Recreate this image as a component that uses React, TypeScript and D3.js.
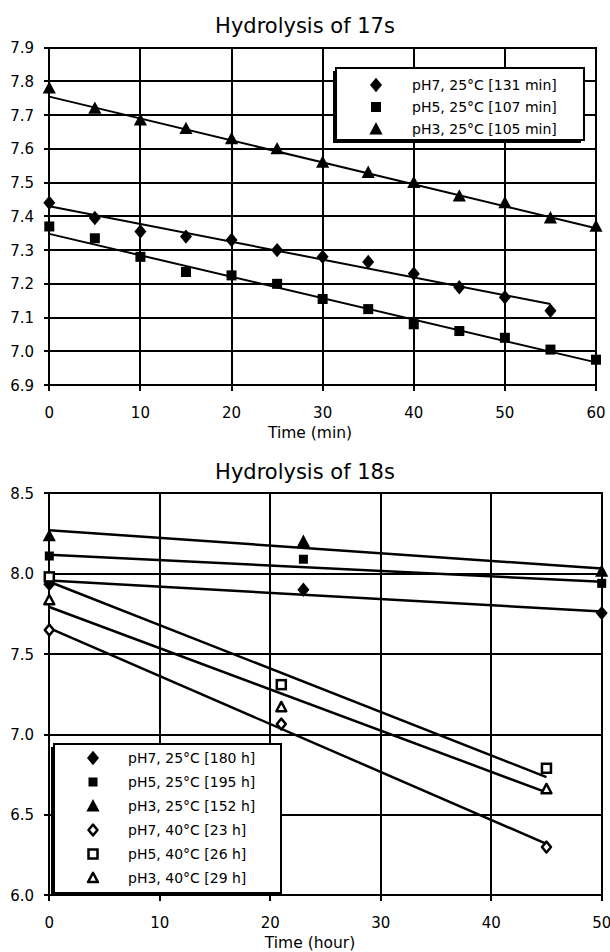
import * as d3 from 'd3';

// ---- Hydrolysis of 17s (time in minutes)
const minutes = [0, 5, 10, 15, 20, 25, 30, 35, 40, 45, 50, 55, 60];
const ph7_17s = [7.44, 7.395, 7.355, 7.34, 7.33, 7.3, 7.28, 7.265, 7.23, 7.19, 7.16, 7.12];
const ph5_17s = [7.37, 7.335, 7.28, 7.235, 7.225, 7.2, 7.155, 7.125, 7.08, 7.06, 7.04, 7.005, 6.975];
const ph3_17s = [7.78, 7.72, 7.685, 7.66, 7.63, 7.6, 7.56, 7.53, 7.5, 7.46, 7.44, 7.395, 7.37];
// trend line values at first / last time point
const fit17s = [
  [7.43, 7.14],
  [7.348, 6.967],
  [7.755, 7.365],
];
const labels17s = ['pH7, 25°C [131 min]', 'pH5, 25°C [107 min]', 'pH3, 25°C [105 min]'];
const xTicks17s = [0, 10, 20, 30, 40, 50, 60];
const yTicks17s = [6.9, 7.0, 7.1, 7.2, 7.3, 7.4, 7.5, 7.6, 7.7, 7.8, 7.9];

// ---- Hydrolysis of 18s (time in hours)
const hours25 = [0, 23, 50];
const hours40 = [0, 21, 45];
const ph7_25 = [7.935, 7.9, 7.755];
const ph5_25 = [8.11, 8.09, 7.94];
const ph3_25 = [8.235, 8.2, 8.015];
const ph7_40 = [7.65, 7.065, 6.3];
const ph5_40 = [7.98, 7.31, 6.79];
const ph3_40 = [7.835, 7.17, 6.66];
const fit18s = [
  [7.958, 7.765],
  [8.118, 7.95],
  [8.27, 8.032],
  [7.661, 6.32],
  [7.95, 6.735],
  [7.793, 6.64],
];
const labels18s = [
  'pH7, 25°C [180 h]',
  'pH5, 25°C [195 h]',
  'pH3, 25°C [152 h]',
  'pH7, 40°C [23 h]',
  'pH5, 40°C [26 h]',
  'pH3, 40°C [29 h]',
];
const xTicks18s = [0, 10, 20, 30, 40, 50];
const yTicks18s = [6.0, 6.5, 7.0, 7.5, 8.0, 8.5];

type Shape = 'diamond' | 'square' | 'triangle';
const FONT = 'DejaVu Sans, Verdana, sans-serif';

function Marker({ shape, filled, x, y, s }: { shape: Shape; filled: boolean; x: number; y: number; s: number }) {
  const fill = filled ? '#000' : '#fff';
  const sw = filled ? 0 : 2.5;
  const st = filled ? 'none' : '#000';
  if (shape === 'square') {
    return <rect x={x - s / 2} y={y - s / 2} width={s} height={s} fill={fill} stroke={st} strokeWidth={sw} />;
  }
  if (shape === 'diamond') {
    const pts = [
      [x, y - s * 0.6],
      [x + s * 0.5, y],
      [x, y + s * 0.6],
      [x - s * 0.5, y],
    ];
    return <polygon points={pts.map((p) => p.join(',')).join(' ')} fill={fill} stroke={st} strokeWidth={sw} strokeLinejoin="round" />;
  }
  const pts = [
    [x, y - s * 0.58],
    [x + s * 0.55, y + s * 0.45],
    [x - s * 0.55, y + s * 0.45],
  ];
  return <polygon points={pts.map((p) => p.join(',')).join(' ')} fill={fill} stroke={st} strokeWidth={sw} strokeLinejoin="round" />;
}

type Series = { xs: number[]; ys: number[]; fit: number[]; shape: Shape; filled: boolean; label: string };

function Panel({
  title,
  xLabel,
  box,
  xDomain,
  yDomain,
  xTicks,
  yTicks,
  series,
  legend,
  sizes,
  lw,
}: {
  title: string;
  xLabel: string;
  box: { left: number; right: number; top: number; bottom: number };
  xDomain: [number, number];
  yDomain: [number, number];
  xTicks: number[];
  yTicks: number[];
  series: Series[];
  legend: { x0: number; y0: number; x1: number; y1: number; rowGap: number; symX: number; textX: number; row0: number };
  sizes: (s: Series) => number;
  lw: number;
}) {
  const x = d3.scaleLinear().domain(xDomain).range([box.left, box.right]);
  const y = d3.scaleLinear().domain(yDomain).range([box.bottom, box.top]);
  const line = d3
    .line<[number, number]>()
    .x((d) => x(d[0]))
    .y((d) => y(d[1]));
  const fmt = d3.format('.1f');
  const midX = 310;

  return (
    <g fontFamily={FONT}>
      <text x={305} y={box.top - 14.4} textAnchor="middle" fontSize={21}>
        {title}
      </text>

      {/* grid */}
      {yTicks.map((t) => (
        <g key={'y' + t}>
          <line
            x1={box.left - 5}
            x2={box.right + 1}
            y1={Math.round(y(t))}
            y2={Math.round(y(t))}
            stroke="#000"
            strokeWidth={lw}
            shapeRendering="crispEdges"
          />
          <text x={34} y={y(t) + 5.5} textAnchor="end" fontSize={15}>
            {fmt(t)}
          </text>
        </g>
      ))}
      {xTicks.map((t) => (
        <g key={'x' + t}>
          <line
            x1={Math.round(x(t))}
            x2={Math.round(x(t))}
            y1={box.top - 1}
            y2={box.bottom + 6}
            stroke="#000"
            strokeWidth={lw}
            shapeRendering="crispEdges"
          />
          <text x={x(t)} y={box.bottom + 33} textAnchor="middle" fontSize={15}>
            {t}
          </text>
        </g>
      ))}
      <text x={midX} y={box.bottom + 52.5} textAnchor="middle" fontSize={15.5}>
        {xLabel}
      </text>

      {/* trend lines */}
      {series.map((s, i) => {
        const xs = s.xs.slice(0, s.ys.length);
        return (
          <path
            key={'f' + i}
            d={line([
              [xs[0], s.fit[0]],
              [xs[xs.length - 1], s.fit[1]],
            ]) ?? ''}
            fill="none"
            stroke="#000"
            strokeWidth={lw}
          />
        );
      })}

      {/* points */}
      {series.map((s, i) =>
        s.ys.map((v, j) => (
          <Marker key={'m' + i + '-' + j} shape={s.shape} filled={s.filled} x={x(s.xs[j])} y={y(v)} s={sizes(s)} />
        ))
      )}

      {/* legend */}
      <rect x={legend.x0 - 3} y={legend.y0 + 3} width={legend.x1 - legend.x0} height={legend.y1 - legend.y0} fill="#000" />
      <rect
        x={legend.x0}
        y={legend.y0}
        width={legend.x1 - legend.x0}
        height={legend.y1 - legend.y0}
        fill="#fff"
        stroke="#000"
        strokeWidth={2}
      />
      {series.map((s, i) => {
        const cy = legend.row0 + i * legend.rowGap;
        return (
          <g key={'l' + i}>
            <Marker shape={s.shape} filled={s.filled} x={legend.symX} y={cy} s={sizes(s)} />
            <text x={legend.textX} y={cy + 5} fontSize={14}>
              {s.label}
            </text>
          </g>
        );
      })}
    </g>
  );
}

export default function App() {
  const shapes: Shape[] = ['diamond', 'square', 'triangle'];
  const top: Series[] = [ph7_17s, ph5_17s, ph3_17s].map((ys, i) => ({
    xs: minutes,
    ys,
    fit: fit17s[i],
    shape: shapes[i],
    filled: true,
    label: labels17s[i],
  }));
  const bottomData = [ph7_25, ph5_25, ph3_25, ph7_40, ph5_40, ph3_40];
  const bottom: Series[] = bottomData.map((ys, i) => ({
    xs: i < 3 ? hours25 : hours40,
    ys,
    fit: fit18s[i],
    shape: shapes[i % 3],
    filled: i < 3,
    label: labels18s[i],
  }));

  return (
    <svg width={610} height={952} style={{ position: 'absolute', left: 0, top: 0, background: '#fff' }}>
      <Panel
        title="Hydrolysis of  17s"
        xLabel="Time (min)"
        box={{ left: 49.3, right: 596, top: 47.7, bottom: 385 }}
        xDomain={[0, 60]}
        yDomain={[6.9, 7.9]}
        xTicks={xTicks17s}
        yTicks={yTicks17s}
        series={top}
        legend={{ x0: 336, y0: 68, x1: 584, y1: 140, rowGap: 22, symX: 376, textX: 412, row0: 85 }}
        sizes={(s) => (s.shape === 'square' ? 10 : 12)}
        lw={2}
      />
      <Panel
        title="Hydrolysis of  18s"
        xLabel="Time (hour)"
        box={{ left: 49.3, right: 601.7, top: 493.3, bottom: 895.3 }}
        xDomain={[0, 50]}
        yDomain={[6.0, 8.5]}
        xTicks={xTicks18s}
        yTicks={yTicks18s}
        series={bottom}
        legend={{ x0: 54, y0: 744, x1: 281, y1: 893, rowGap: 24, symX: 93, textX: 128, row0: 758 }}
        sizes={(s) => (s.filled ? (s.shape === 'square' ? 9 : 12) : 9)}
        lw={2.5}
      />
    </svg>
  );
}
